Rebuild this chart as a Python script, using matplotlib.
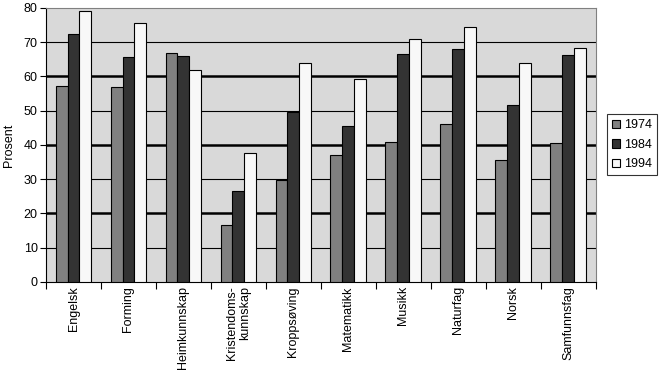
import matplotlib.pyplot as plt
import numpy as np

plt.rcParams['font.family'] = ['Liberation Sans', 'DejaVu Sans']

fag = ['Engelsk', 'Forming', 'Heimkunnskap', 'Kristendoms-\nkunnskap', 'Kroppsøving',
       'Matematikk', 'Musikk', 'Naturfag', 'Norsk', 'Samfunnsfag']
v1974 = [57.3, 56.8, 67.0, 16.5, 29.8, 37.0, 40.8, 46.0, 35.5, 40.5]
v1984 = [72.4, 65.6, 65.9, 26.5, 49.5, 45.5, 66.5, 68.0, 51.6, 66.3]
v1994 = [79.0, 75.5, 61.8, 37.6, 63.8, 59.2, 70.9, 74.5, 63.9, 68.2]
aar = ['1974', '1984', '1994']

fig = plt.figure(figsize=(6.61, 3.73), dpi=100)
ax = fig.add_axes([0.0696, 0.244, 0.832, 0.7346])
ax.set_facecolor('#d9d9d9')

x = np.arange(len(fag))
b = 0.218
farger = ['#808080', '#333333', '#f8f8f8']
for i, (vals, navn) in enumerate(zip([v1974, v1984, v1994], aar)):
    ax.bar(x + (i - 1) * b, vals, b, color=farger[i], edgecolor='black',
           linewidth=0.8, label=navn, zorder=3)

# rutenett: tykke linjer på 20, 40, 60
for y in range(10, 80, 10):
    ax.axhline(y, color='black', lw=1.8 if y % 20 == 0 else 0.8, zorder=1)

ax.set_xlim(-0.5, len(fag) - 0.5)
ax.set_ylim(0, 80)
ax.set_yticks(range(0, 81, 10))
ax.set_xticks(np.arange(-0.5, len(fag), 1.0))
ax.set_xticklabels([])
ax.set_xticks(x, minor=True)
ax.set_xticklabels(fag, minor=True, rotation=90, fontsize=9, multialignment='right')
ax.tick_params(axis='x', which='minor', length=0, pad=3)
ax.tick_params(axis='x', which='major', length=5, direction='out', color='black')
ax.tick_params(axis='y', labelsize=9, length=4, pad=2)
ax.set_ylabel('Prosent', fontsize=9, labelpad=6)

for s in ['top', 'right']:
    ax.spines[s].set_color('#808080')
for s in ['left', 'bottom']:
    ax.spines[s].set_color('black')

leg = ax.legend(loc='center left', bbox_to_anchor=(1.008, 0.5), fontsize=9,
                frameon=True, fancybox=False, edgecolor='black', handlelength=0.7,
                handleheight=0.7, handletextpad=0.3, borderpad=0.4, labelspacing=0.6)
leg.get_frame().set_linewidth(0.8)

plt.savefig('out.png', dpi=100)
